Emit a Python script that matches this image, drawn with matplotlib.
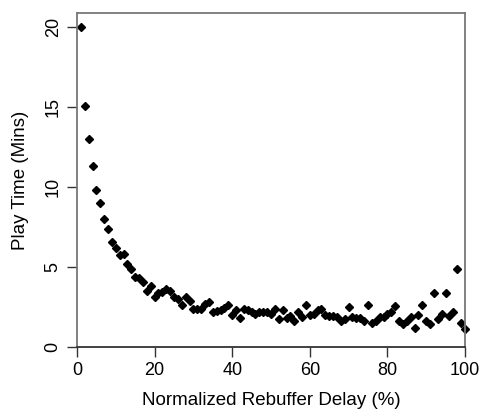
import matplotlib
matplotlib.use("Agg")
import matplotlib.pyplot as plt
import numpy as np

# Data (one point per percent of rebuffer delay)
delay_pct = np.arange(1, 101)
play_time = [
    20.0, 15.1, 13.0, 11.3, 9.8, 9.0, 8.0, 7.4, 6.6, 6.2,
    5.75, 5.8, 5.2, 4.9, 4.4, 4.3, 4.05, 3.5, 3.8, 3.1,
    3.4, 3.45, 3.6, 3.5, 3.1, 3.0, 2.65, 3.1, 2.9, 2.4,
    2.4, 2.4, 2.7, 2.8, 2.2, 2.25, 2.3, 2.45, 2.6, 2.0,
    2.3, 1.8, 2.4, 2.3, 2.2, 2.05, 2.2, 2.2, 2.2, 2.05,
    2.4, 1.75, 2.3, 1.8, 1.95, 1.6, 2.2, 1.9, 2.6, 2.0,
    2.05, 2.3, 2.4, 2.0, 1.95, 1.95, 1.9, 1.65, 1.75, 2.5,
    1.9, 1.8, 1.8, 1.65, 2.6, 1.5, 1.65, 1.85, 1.9, 2.05,
    2.2, 2.55, 1.65, 1.45, 1.6, 1.85, 1.2, 2.0, 2.6, 1.6,
    1.45, 3.35, 1.75, 2.05, 3.35, 1.95, 2.2, 4.9, 1.5, 1.1,
]
x_ticks = [0, 20, 40, 60, 80, 100]
y_ticks = [0, 5, 10, 15, 20]

plt.rcParams["font.family"] = ["Liberation Sans", "DejaVu Sans"]

fig = plt.figure(figsize=(4.83, 4.09), dpi=100)
ax = fig.add_axes([0.1594, 0.1516, 0.8033, 0.8166])

ax.plot(delay_pct, play_time, linestyle="none", marker="D",
        markersize=3.7, color="black", clip_on=False)

ax.set_xlim(0, 100)
ax.set_ylim(0, 20.9)
ax.set_xticks(x_ticks)
ax.set_yticks(y_ticks)
ax.set_yticklabels([str(v) for v in y_ticks], rotation=90, va="center")
ax.tick_params(direction="out", length=7, width=1, labelsize=13,
               color="#333333", pad=4)

for side in ["left", "top", "right"]:
    ax.spines[side].set_color("#777777")
    ax.spines[side].set_linewidth(1.3)
ax.spines["bottom"].set_color("#333333")
ax.spines["bottom"].set_linewidth(1.3)

ax.set_xlabel("Normalized Rebuffer Delay (%)", fontsize=13.5, labelpad=9)
ax.set_ylabel("Play Time (Mins)", fontsize=13.5, labelpad=11)

fig.savefig("out.png", dpi=100)
